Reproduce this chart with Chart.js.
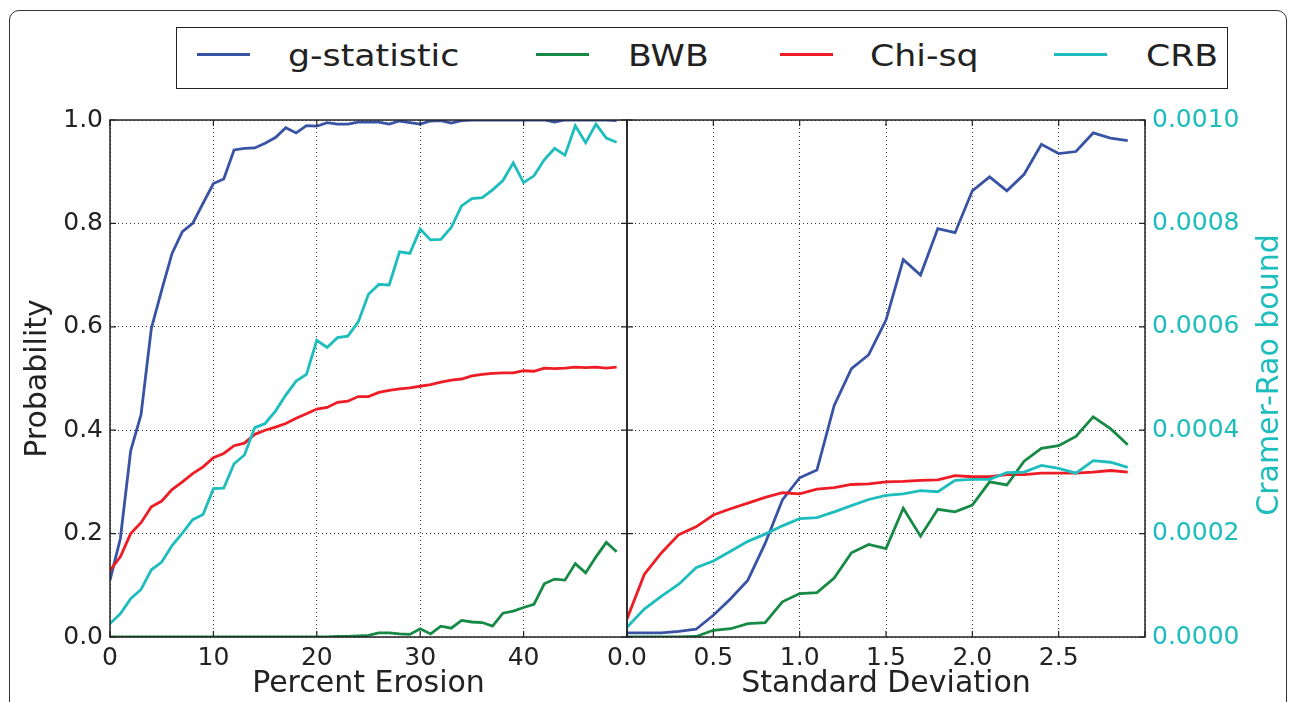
<!DOCTYPE html>
<html>
<head>
<meta charset="utf-8">
<script src="https://cdn.jsdelivr.net/npm/chart.js@4.4.0/dist/chart.umd.min.js"></script>
<style>
  body { margin: 0; width: 1290px; height: 702px; overflow: hidden; position: relative; background: #fff; font-family: 'DejaVu Sans', sans-serif; color: #222; }
  #frame { position: absolute; left: 9px; top: 10px; width: 1276px; height: 760px; border: 1.5px solid #333; border-radius: 10px; }
  #legend { position: absolute; left: 176px; top: 27px; width: 1050px; height: 60px; border: 1.5px solid #222; }
  .key { position: absolute; top: 25px; width: 53px; height: 3px; }
  .lab { position: absolute; top: 9px; font-size: 31px; line-height: 36px; white-space: nowrap; transform: scaleX(1.12); transform-origin: left center; }
  canvas { position: absolute; top: 0; }
  #left { left: 0; }
  #right { left: 600px; }
  #crbTitle { position: absolute; left: 1068px; top: 357px; width: 400px; text-align: center; font-size: 30px; line-height: 36px; color: #1dbdbd; transform: rotate(-90deg); white-space: nowrap; }
</style>
</head>
<body>
<div id="frame"></div>
<div id="legend">
  <div class="key" style="left:20px;background:#3953a4"></div><div class="lab" style="left:111px">g-statistic</div>
  <div class="key" style="left:359px;background:#168a45"></div><div class="lab" style="left:451px">BWB</div>
  <div class="key" style="left:603px;background:#ee1c25"></div><div class="lab" style="left:693px">Chi-sq</div>
  <div class="key" style="left:877px;background:#1dbdbd"></div><div class="lab" style="left:969px">CRB</div>
</div>
<canvas id="left" width="640" height="702"></canvas>
<canvas id="right" width="690" height="702"></canvas>
<div id="crbTitle">Cramer-Rao bound</div>
<script>
// left panel: percent erosion
const erosion = [0, 1, 2, 3, 4, 5, 6, 7, 8, 9, 10, 11, 12, 13, 14, 15, 16, 17, 18, 19, 20, 21, 22, 23, 24,
  25, 26, 27, 28, 29, 30, 31, 32, 33, 34, 35, 36, 37, 38, 39, 40, 41, 42, 43, 44, 45, 46, 47, 48, 49];
const gStatErosion = [0.11, 0.19, 0.36, 0.43, 0.597, 0.671, 0.742, 0.784, 0.80, 0.839, 0.877, 0.886, 0.942, 0.945, 0.946, 0.955, 0.966, 0.985, 0.975, 0.989,
  0.988, 0.995, 0.992, 0.992, 0.996, 0.996, 0.996, 0.992, 0.998, 0.995, 0.992, 0.998, 0.999, 0.994, 0.999, 1.0, 1.0, 1.0, 1.0, 1.0,
  1.0, 1.0, 1.0, 0.996, 1.0, 1.0, 1.0, 1.0, 1.0, 0.999];
const bwbErosion = [0, 0, 0, 0, 0, 0, 0, 0, 0, 0, 0, 0, 0, 0, 0, 0, 0, 0, 0, 0,
  0, 0, 0.001, 0.001, 0.002, 0.003, 0.008, 0.008, 0.006, 0.005, 0.016, 0.006, 0.021, 0.017, 0.032, 0.029, 0.028, 0.021, 0.046, 0.05,
  0.057, 0.063, 0.103, 0.112, 0.11, 0.142, 0.124, 0.155, 0.183, 0.165];
const chiErosion = [0.129, 0.155, 0.2, 0.221, 0.252, 0.263, 0.285, 0.3, 0.316, 0.329, 0.347, 0.355, 0.37, 0.375, 0.392, 0.4, 0.406, 0.413, 0.423, 0.432,
  0.441, 0.444, 0.454, 0.456, 0.465, 0.465, 0.473, 0.477, 0.48, 0.482, 0.485, 0.488, 0.493, 0.497, 0.499, 0.505, 0.508, 0.51, 0.511, 0.511,
  0.515, 0.514, 0.52, 0.519, 0.52, 0.522, 0.521, 0.522, 0.52, 0.522];
const crbErosion = [0.026e-3, 0.045e-3, 0.074e-3, 0.092e-3, 0.13e-3, 0.145e-3, 0.177e-3, 0.201e-3, 0.227e-3, 0.237e-3,
  0.287e-3, 0.288e-3, 0.335e-3, 0.352e-3, 0.405e-3, 0.413e-3, 0.437e-3, 0.468e-3, 0.495e-3, 0.508e-3,
  0.574e-3, 0.56e-3, 0.579e-3, 0.582e-3, 0.609e-3, 0.663e-3, 0.682e-3, 0.681e-3, 0.745e-3, 0.742e-3,
  0.789e-3, 0.768e-3, 0.769e-3, 0.792e-3, 0.834e-3, 0.848e-3, 0.85e-3, 0.865e-3, 0.883e-3, 0.917e-3,
  0.879e-3, 0.892e-3, 0.923e-3, 0.945e-3, 0.932e-3, 0.989e-3, 0.956e-3, 0.992e-3, 0.965e-3, 0.957e-3];

// right panel: standard deviation
const stdDev = [0.0, 0.1, 0.2, 0.3, 0.4, 0.5, 0.6, 0.7, 0.8, 0.9, 1.0, 1.1, 1.2, 1.3, 1.4,
  1.5, 1.6, 1.7, 1.8, 1.9, 2.0, 2.1, 2.2, 2.3, 2.4, 2.5, 2.6, 2.7, 2.8, 2.9];
const gStatSd = [0.008, 0.008, 0.008, 0.011, 0.015, 0.042, 0.074, 0.11, 0.181, 0.265, 0.308, 0.323, 0.448, 0.519, 0.546,
  0.613, 0.73, 0.7, 0.79, 0.782, 0.863, 0.89, 0.863, 0.895, 0.953, 0.935, 0.939, 0.975, 0.965, 0.96];
const bwbSd = [0, 0, 0, 0, 0.001, 0.013, 0.016, 0.026, 0.028, 0.068, 0.084, 0.086, 0.114, 0.163, 0.179,
  0.171, 0.249, 0.195, 0.247, 0.242, 0.255, 0.3, 0.294, 0.34, 0.365, 0.37, 0.388, 0.426, 0.403, 0.372];
const chiSd = [0.035, 0.121, 0.163, 0.198, 0.213, 0.236, 0.248, 0.259, 0.27, 0.279, 0.277, 0.286, 0.289, 0.295, 0.296,
  0.3, 0.301, 0.303, 0.304, 0.312, 0.31, 0.31, 0.314, 0.314, 0.317, 0.317, 0.317, 0.319, 0.322, 0.319];
const crbSd = [0.019e-3, 0.054e-3, 0.079e-3, 0.102e-3, 0.134e-3, 0.147e-3, 0.166e-3, 0.185e-3, 0.199e-3, 0.215e-3,
  0.229e-3, 0.231e-3, 0.242e-3, 0.254e-3, 0.266e-3, 0.274e-3, 0.277e-3, 0.283e-3, 0.281e-3, 0.303e-3,
  0.305e-3, 0.305e-3, 0.318e-3, 0.319e-3, 0.332e-3, 0.326e-3, 0.317e-3, 0.341e-3, 0.338e-3, 0.328e-3];

const seriesNames = ['g-statistic', 'BWB', 'Chi-sq', 'CRB'];
const seriesColors = ['#3953a4', '#168a45', '#ee1c25', '#1dbdbd'];
const crbColor = '#1dbdbd';

Chart.defaults.font.family = "'DejaVu Sans', sans-serif";
Chart.defaults.color = '#222';

function line(i, xs, ys, axis) {
  return {
    label: seriesNames[i],
    data: xs.map((x, k) => ({ x: x, y: ys[k] })),
    borderColor: seriesColors[i],
    borderWidth: 2.8,
    pointRadius: 0,
    tension: 0,
    fill: false,
    yAxisID: axis
  };
}

// matplotlib-style box round the axes, with inward tick marks
const spineBox = {
  id: 'spineBox',
  afterDatasetsDraw(chart) {
    const { ctx, chartArea: a, scales } = chart;
    const len = 6;
    ctx.save();
    ctx.strokeStyle = '#222';
    ctx.lineWidth = 1.5;
    ctx.strokeRect(a.left, a.top, a.right - a.left, a.bottom - a.top);
    ctx.lineWidth = 1.2;
    ctx.beginPath();
    scales.x.ticks.forEach(t => {
      const px = scales.x.getPixelForValue(t.value);
      ctx.moveTo(px, a.bottom); ctx.lineTo(px, a.bottom - len);
      ctx.moveTo(px, a.top); ctx.lineTo(px, a.top + len);
    });
    scales.y.ticks.forEach(t => {
      const py = scales.y.getPixelForValue(t.value);
      ctx.moveTo(a.left, py); ctx.lineTo(a.left + len, py);
      ctx.moveTo(a.right, py); ctx.lineTo(a.right - len, py);
    });
    ctx.stroke();
    ctx.restore();
  }
};

const gridOpts = { color: '#333', lineWidth: 1, drawTicks: false };
const borderOpts = { display: false, dash: [1, 3] };

new Chart(document.getElementById('left'), {
  type: 'line',
  data: {
    datasets: [
      line(3, erosion, crbErosion, 'y1'),
      line(1, erosion, bwbErosion, 'y'),
      line(2, erosion, chiErosion, 'y'),
      line(0, erosion, gStatErosion, 'y')
    ]
  },
  options: {
    responsive: false,
    animation: false,
    layout: { padding: { top: 120, right: 13, bottom: 0, left: 0 } },
    plugins: { legend: { display: false }, tooltip: { enabled: false } },
    scales: {
      x: {
        type: 'linear', min: 0, max: 50,
        ticks: { stepSize: 10, autoSkip: false, maxRotation: 0, padding: 6, font: { size: 25 },
          callback: v => v === 50 ? '' : v },
        grid: gridOpts,
        border: borderOpts,
        title: { display: true, text: 'Percent Erosion', font: { size: 30 }, padding: { top: 0, bottom: 0 } },
        afterFit(s) { s.height = 65; }
      },
      y: {
        min: 0, max: 1,
        ticks: { stepSize: 0.2, padding: 7, font: { size: 25 }, callback: v => v.toFixed(1) },
        grid: gridOpts,
        border: borderOpts,
        title: { display: true, text: 'Probability', font: { size: 30 }, padding: { top: 20, bottom: 0 } },
        afterFit(s) { s.width = 110; }
      },
      y1: { display: false, position: 'right', min: 0, max: 0.001 }
    }
  },
  plugins: [spineBox]
});

new Chart(document.getElementById('right'), {
  type: 'line',
  data: {
    datasets: [
      line(3, stdDev, crbSd, 'y1'),
      line(1, stdDev, bwbSd, 'y'),
      line(2, stdDev, chiSd, 'y'),
      line(0, stdDev, gStatSd, 'y')
    ]
  },
  options: {
    responsive: false,
    animation: false,
    layout: { padding: { top: 120, right: 0, bottom: 0, left: 0 } },
    plugins: { legend: { display: false }, tooltip: { enabled: false } },
    scales: {
      x: {
        type: 'linear', min: 0, max: 3,
        ticks: { stepSize: 0.5, autoSkip: false, maxRotation: 0, padding: 6, font: { size: 25 },
          callback: v => v === 3 ? '' : v.toFixed(1) },
        grid: gridOpts,
        border: borderOpts,
        title: { display: true, text: 'Standard Deviation', font: { size: 30 }, padding: { top: 0, bottom: 0 } },
        afterFit(s) { s.height = 65; }
      },
      y: {
        min: 0, max: 1,
        ticks: { display: false, stepSize: 0.2 },
        grid: gridOpts,
        border: borderOpts,
        afterFit(s) { s.width = 27; }
      },
      y1: {
        position: 'right', min: 0, max: 0.001,
        ticks: { stepSize: 0.0002, padding: 7, color: crbColor, font: { size: 25 }, callback: v => v.toFixed(4) },
        grid: { drawOnChartArea: false, drawTicks: false },
        border: { display: false },
        afterFit(s) { s.width = 145; }
      }
    }
  },
  plugins: [spineBox]
});
</script>
</body>
</html>
